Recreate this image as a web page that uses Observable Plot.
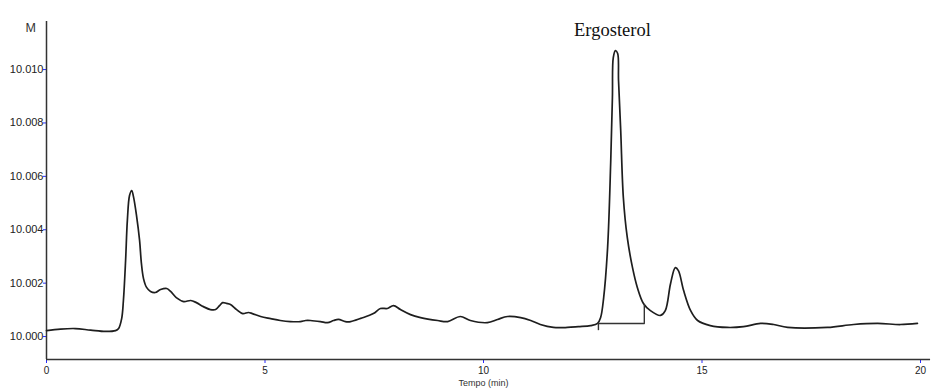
<!DOCTYPE html>
<html>
<head>
<meta charset="utf-8">
<script src="https://cdn.jsdelivr.net/npm/d3@7"></script>
<script src="https://cdn.jsdelivr.net/npm/@observablehq/plot@0.6"></script>
<style>
  html, body { margin: 0; padding: 0; background: #fff; }
  #chart svg { display: block; }
</style>
</head>
<body>
<div id="chart"></div>
<script>
// Chromatogram trace: retention time (min) and detector signal
const time = [0, 0.32, 0.66, 1.01, 1.35, 1.58, 1.65, 1.72, 1.76, 1.81, 1.85, 1.90, 1.95, 1.99, 2.06, 2.13, 2.17, 2.22, 2.29, 2.38, 2.49, 2.61, 2.75, 2.84, 2.97, 3.14, 3.30, 3.43, 3.59, 3.75, 3.87, 3.96, 4.03, 4.12, 4.21, 4.35, 4.49, 4.62, 4.71, 4.90, 5.13, 5.35, 5.58, 5.81, 5.93, 6.04, 6.27, 6.43, 6.57, 6.68, 6.84, 6.96, 7.19, 7.48, 7.64, 7.80, 7.94, 8.10, 8.33, 8.56, 8.95, 9.18, 9.47, 9.70, 10.09, 10.32, 10.55, 10.85, 11.08, 11.30, 11.60, 11.92, 12.17, 12.45, 12.61, 12.68, 12.75, 12.84, 12.91, 12.95, 12.97, 13.02, 13.07, 13.09, 13.14, 13.20, 13.29, 13.41, 13.52, 13.66, 13.82, 14.05, 14.16, 14.28, 14.39, 14.46, 14.58, 14.74, 14.90, 15.19, 15.58, 15.95, 16.34, 16.64, 16.96, 17.87, 18.47, 19.02, 19.54, 19.93];
const signal = [10.00022, 10.00028, 10.00030, 10.00024, 10.00019, 10.00022, 10.00030, 10.00067, 10.00135, 10.00285, 10.00434, 10.00528, 10.00547, 10.00524, 10.00453, 10.00360, 10.00277, 10.00217, 10.00184, 10.00169, 10.00165, 10.00176, 10.00180, 10.00169, 10.00146, 10.00131, 10.00135, 10.00127, 10.00112, 10.00101, 10.00101, 10.00116, 10.00127, 10.00124, 10.00120, 10.00101, 10.00086, 10.00090, 10.00086, 10.00075, 10.00067, 10.00060, 10.00056, 10.00056, 10.00060, 10.00060, 10.00056, 10.00052, 10.00060, 10.00064, 10.00056, 10.00056, 10.00068, 10.00086, 10.00105, 10.00105, 10.00116, 10.00101, 10.00082, 10.00071, 10.00060, 10.00056, 10.00075, 10.00060, 10.00052, 10.00064, 10.00075, 10.00071, 10.00060, 10.00045, 10.00034, 10.00034, 10.00037, 10.00041, 10.00049, 10.00071, 10.00146, 10.00333, 10.00648, 10.00895, 10.01045, 10.01071, 10.01060, 10.00959, 10.00771, 10.00521, 10.00371, 10.00258, 10.00184, 10.00124, 10.00097, 10.00079, 10.00097, 10.00198, 10.00258, 10.00247, 10.00172, 10.00097, 10.00060, 10.00041, 10.00034, 10.00037, 10.00049, 10.00045, 10.00034, 10.00034, 10.00045, 10.00049, 10.00045, 10.00049];

// Axis ticks
const xTicks = [0, 5, 10, 15, 20];
const yTicks = [10.000, 10.002, 10.004, 10.006, 10.008, 10.010];
const xDomain = [0, 20];
const yDomain = [9.99914, 10.0118];

// Peak annotation
const peakLabels = ["Ergosterol"];
const peakLabelTime = [12.95];
const peakLabelSignal = [10.01146];

// Integration baseline of the ergosterol peak
const baselineTime = [12.63, 13.68];
const baselineSignal = [10.00049, 10.00049];
const dropStartSignal = [10.00049, 10.00022];
const dropEndSignal = [10.00049, 10.00120];

const yUnit = "M";
const xTitle = "Tempo (min)";

const trace = time.map((t, i) => ({t, v: signal[i]}));
const labels = peakLabels.map((s, i) => ({t: peakLabelTime[i], v: peakLabelSignal[i], s}));
const baseline = baselineTime.map((t, i) => ({t, v: baselineSignal[i]}));
const drops = [
  {t: baselineTime[0], v1: dropStartSignal[0], v2: dropStartSignal[1]},
  {t: baselineTime[1], v1: dropEndSignal[0], v2: dropEndSignal[1]}
];

const chart = Plot.plot({
  width: 935,
  height: 390,
  marginLeft: 46,
  marginRight: 15,
  marginTop: 21,
  marginBottom: 31,
  style: {background: "#fff", fontFamily: "Liberation Sans, Arial, sans-serif"},
  x: {domain: xDomain, ticks: xTicks},
  y: {domain: yDomain, ticks: yTicks},
  marks: [
    Plot.axisY({ticks: yTicks, tickSize: 3, tickPadding: 0, stroke: "#2a2aff", fill: "#222", fontSize: 11, tickFormat: d3.format(".3f"), label: null}),
    Plot.axisX({ticks: xTicks, tickSize: 4, tickPadding: 3, stroke: "#2a2aff", fill: "#222", fontSize: 10, label: null}),
    Plot.ruleX([xDomain[0]], {stroke: "#333", strokeWidth: 1.5}),
    Plot.ruleY([yDomain[0]], {x1: xDomain[0], x2: 20.23, stroke: "#333", strokeWidth: 1.5}),
    Plot.line(trace, {x: "t", y: "v", stroke: "#1e1e1e", strokeWidth: 1.7, curve: "catmull-rom"}),
    Plot.line(baseline, {x: "t", y: "v", stroke: "#333", strokeWidth: 1.4}),
    Plot.ruleX(drops, {x: "t", y1: "v1", y2: "v2", stroke: "#333", strokeWidth: 1.4}),
    Plot.text(labels, {x: "t", y: "v", text: "s", fontFamily: "Liberation Serif, Times New Roman, serif", fontSize: 18.5, fill: "#111"}),
    Plot.text([yUnit], {frameAnchor: "top-left", dx: -21, dy: 2, fontSize: 12.5, fill: "#333", textAnchor: "start"}),
    Plot.text([xTitle], {frameAnchor: "bottom", dy: 26, fontSize: 9, fill: "#333"})
  ]
});
document.getElementById("chart").appendChild(chart);
</script>
</body>
</html>
